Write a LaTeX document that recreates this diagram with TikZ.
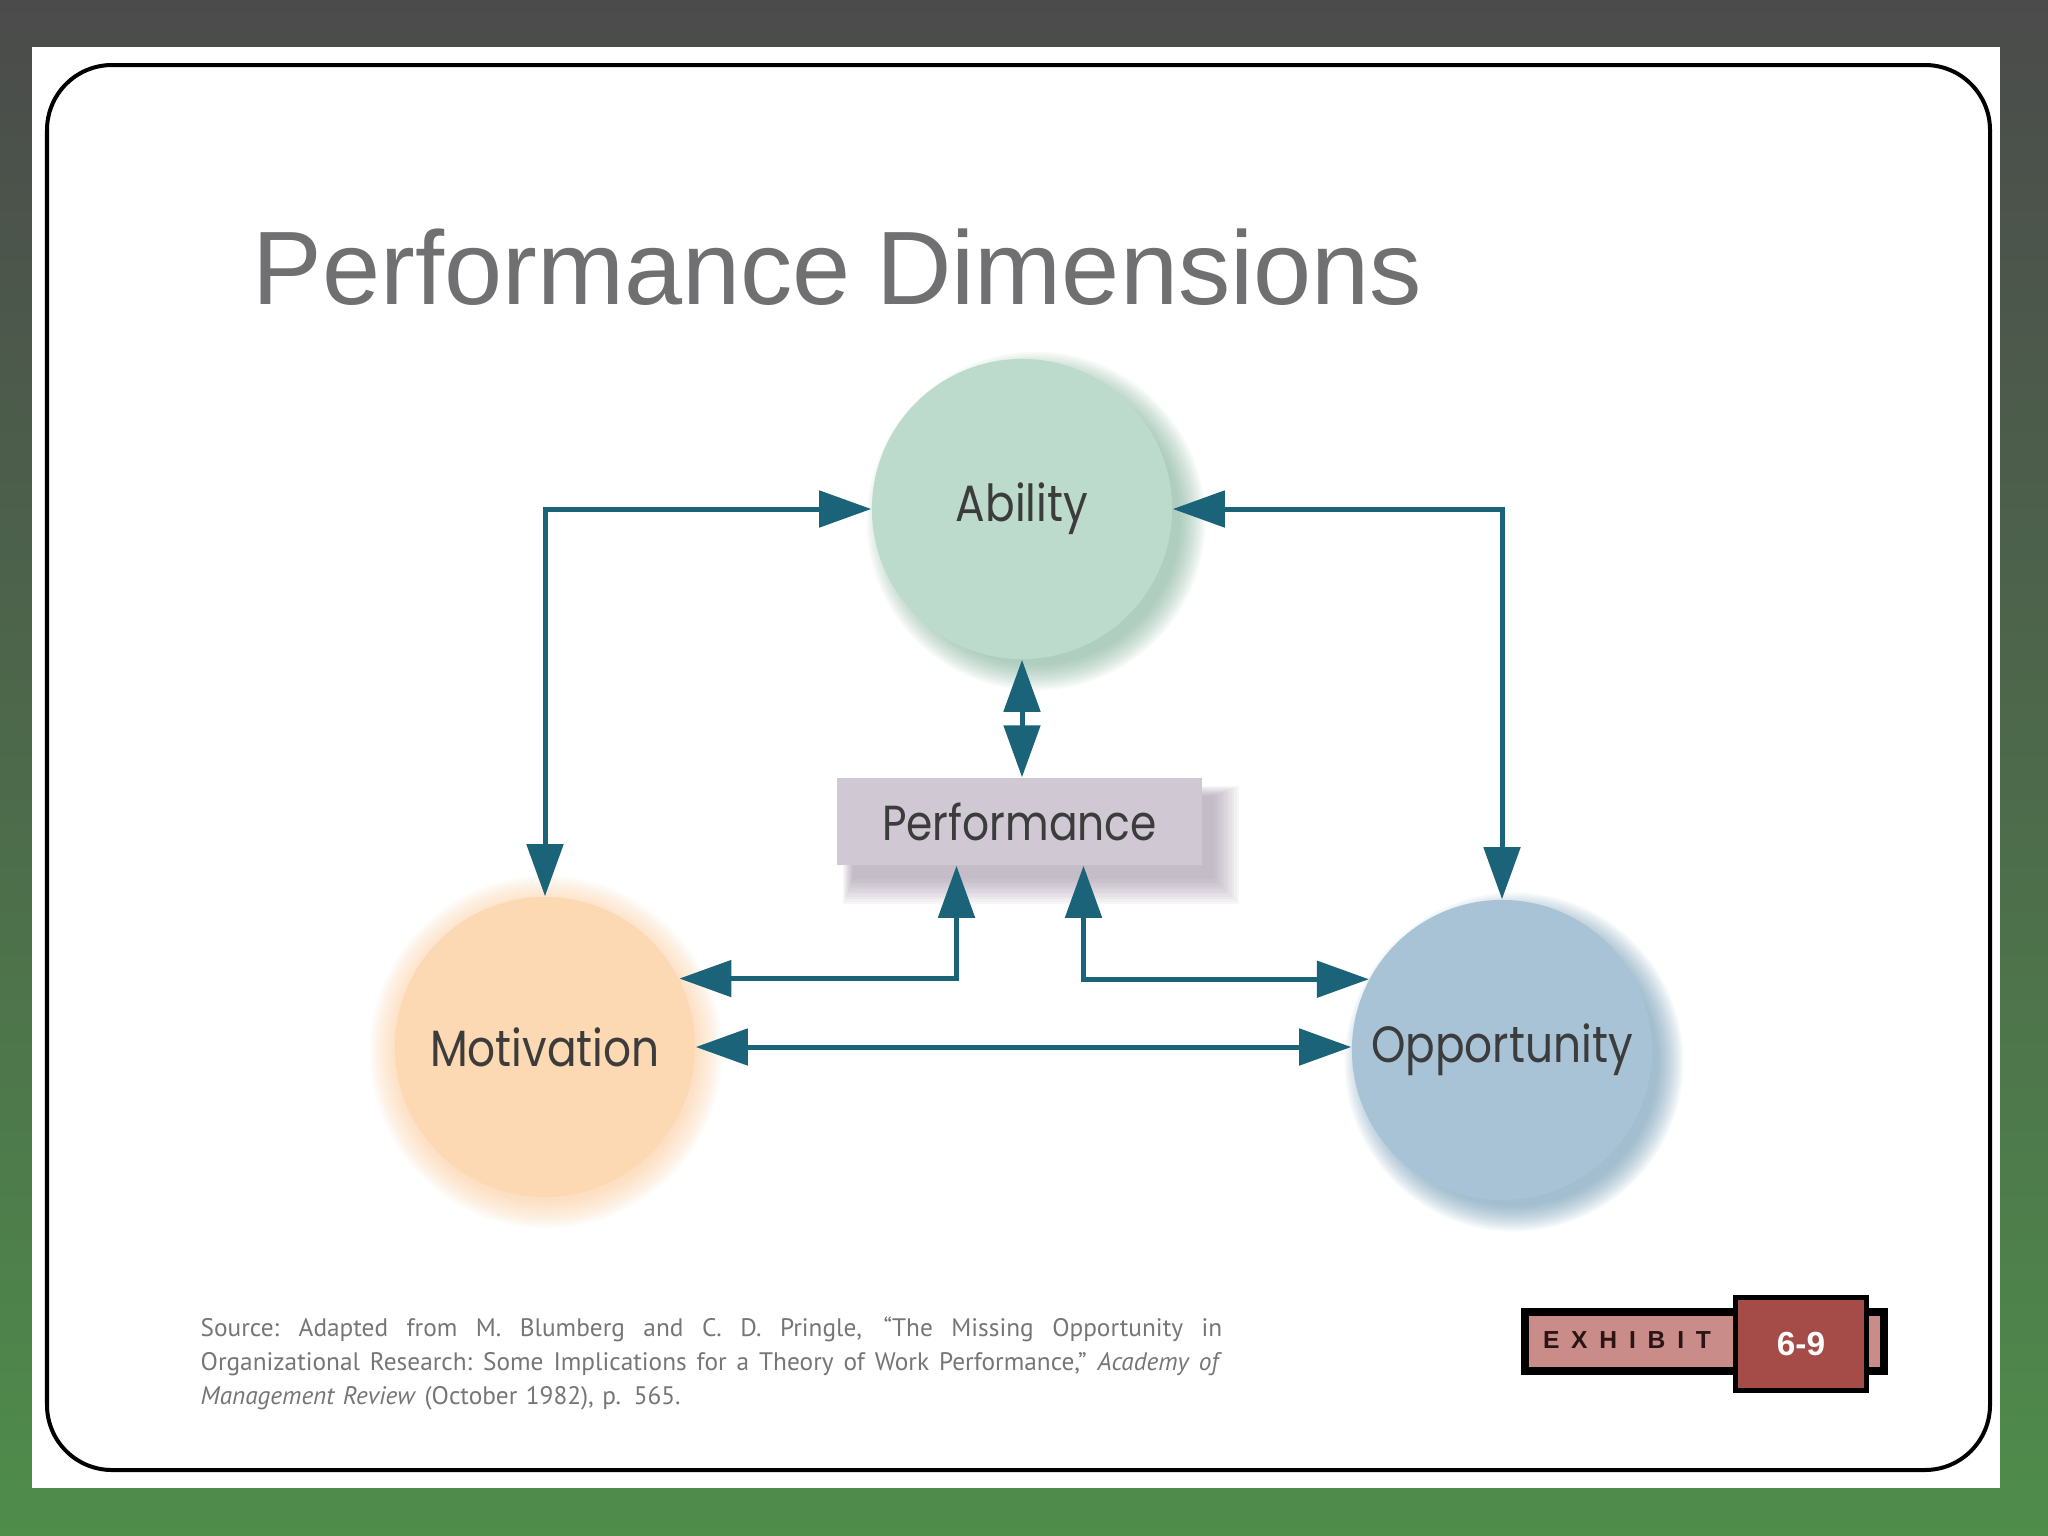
\documentclass[tikz,border=0pt]{standalone}
\usepackage{fontspec}
\usepackage{graphicx}
\setmainfont{Liberation Sans}
\newfontfamily\geo{Poppins}
\newfontfamily\srcfont{PT Sans}
\usetikzlibrary{arrows.meta,calc}
\definecolor{bgtop}{HTML}{4B4B4B}
\definecolor{bgmid}{HTML}{4D6A4B}
\definecolor{bgbot}{HTML}{4F8D4B}
\definecolor{titlegray}{HTML}{707072}
\definecolor{labelgray}{HTML}{3C3C3C}
\definecolor{abfill}{HTML}{BCDBCC}
\definecolor{abshadow}{HTML}{76AE94}
\definecolor{motfill}{HTML}{FCD9B2}
\definecolor{motglow}{HTML}{FDD2A2}
\definecolor{oppfill}{HTML}{A7C3D5}
\definecolor{oppshadow}{HTML}{5E90AE}
\definecolor{perffill}{HTML}{D0C8D3}
\definecolor{perfshadow}{HTML}{8E7D93}
\definecolor{srcgray}{HTML}{767676}
\definecolor{expink}{HTML}{C98C88}
\definecolor{exred}{HTML}{A54B48}
\definecolor{exdark}{HTML}{2B1414}
\definecolor{teal1}{HTML}{1B6378}
\newcommand{\geolabel}[1]{\scalebox{0.86}[1]{#1}}
\newcommand{\jline}[1]{\leavevmode\hbox to 10.21cm{\spaceskip=0.26em plus 3em minus 0.05em\xspaceskip=0.3em plus 3em\relax #1}}
\begin{document}
\begin{tikzpicture}[x=0.01cm,y=0.01cm,
  biarrow/.style={draw=teal1, line width=0.05cm,
    {Triangle[length=0.52cm,width=0.36cm]}-{Triangle[length=0.52cm,width=0.36cm]}},
  bubble/.style={circle, minimum size=3cm, inner sep=0pt,
    font=\geo\fontsize{14.5}{17}\selectfont, text=labelgray},
  perfbox/.style={rectangle, minimum width=3.65cm, minimum height=0.87cm,
    inner sep=0pt, fill=perffill, font=\geo\fontsize{14}{17}\selectfont, text=labelgray}]

\useasboundingbox (0,0) rectangle (2048,-1536);
% background
\shade[top color=bgtop, bottom color=bgbot, middle color=bgmid] (0,0) rectangle (2048,-1536);
\fill[white] (32,-47) rectangle (2000,-1488);
\draw[line width=0.04cm, rounded corners=0.65cm] (47,-65) rectangle (1990,-1470);

% title
\node[anchor=base west, inner sep=0pt, text=titlegray,
  font=\fontsize{29.7}{34}\selectfont] (title) at (252,-304) {Performance\hspace{-0.03em} Dimensions};

% soft shadows
\foreach \k in {0,...,14}
  \fill[abshadow, opacity=0.05] (1036,-521) circle ({1.44cm+\k*0.018cm});
\foreach \k in {0,...,14}
  \fill[oppshadow, opacity=0.05] (1514,-1062) circle ({1.44cm+\k*0.018cm});
\foreach \k in {0,...,14}
  \fill[motglow, opacity=0.06] (546,-1052) circle ({1.48cm+\k*0.02cm});
\foreach \k in {0,...,10}
  \fill[perfshadow, opacity=0.06] ({853-1*\k},{-796+1*\k}) rectangle ({1214+2.5*\k},{-879-2.5*\k});

% nodes
\node[bubble, fill=abfill] (abl) at (1022,-509) {\geolabel{Ability}};
\node[bubble, fill=motfill] (mot) at (545,-1047) {\geolabel{Motivation}};
\node[bubble, fill=oppfill] (opp) at (1502,-1050) {\geolabel{Opportunity}};
\node[perfbox] (perf) at (1019.5,-821.5) {\geolabel{Performance}};

% connectors
\draw[biarrow] (abl.west) -| (mot.north);
\draw[biarrow] (abl.east) -| (opp.north);
\draw[biarrow] (abl.south) -- (abl.south |- perf.north);
\draw[biarrow] ($(perf.south)+(-63,0)$) |- (mot.27);
\draw[biarrow] ($(perf.south)+(64,0)$) |- (opp.152);
\draw[biarrow] (mot.east) -- (mot.east -| opp.west);

% source
\node[anchor=north west, inner sep=0pt, text width=10.21cm, text=srcgray,
  font=\srcfont\fontsize{7.2}{9.7}\selectfont] (src) at (200,-1316)
  {\jline{Source: Adapted from M. Blumberg and C. D. Pringle, “The Missing Opportunity in}\\
   \jline{Organizational Research: Some Implications for a Theory of Work Performance,” \emph{Academy of}}\\
   \emph{Management Review} (October 1982), p. 565.};

% exhibit tag
\node[draw=black, line width=0.08cm, fill=expink, minimum width=3.59cm,
  minimum height=0.59cm, inner sep=0pt] (exbar) at (1704.5,-1341.5) {};
\node[text=exdark, inner sep=0pt, font=\bfseries\fontsize{7}{8}\selectfont]
  (exh) at (1627,-1340) {E\hspace{0.48em}X\hspace{0.48em}H\hspace{0.48em}I\hspace{0.48em}B\hspace{0.48em}I\hspace{0.48em}T};
\node[draw=black, line width=0.05cm, fill=exred, minimum width=1.3cm,
  minimum height=0.92cm, inner sep=0pt, text=white,
  font=\bfseries\fontsize{9.5}{10}\selectfont] (num) at (1801,-1344) {6-9};
\end{tikzpicture}
\end{document}
